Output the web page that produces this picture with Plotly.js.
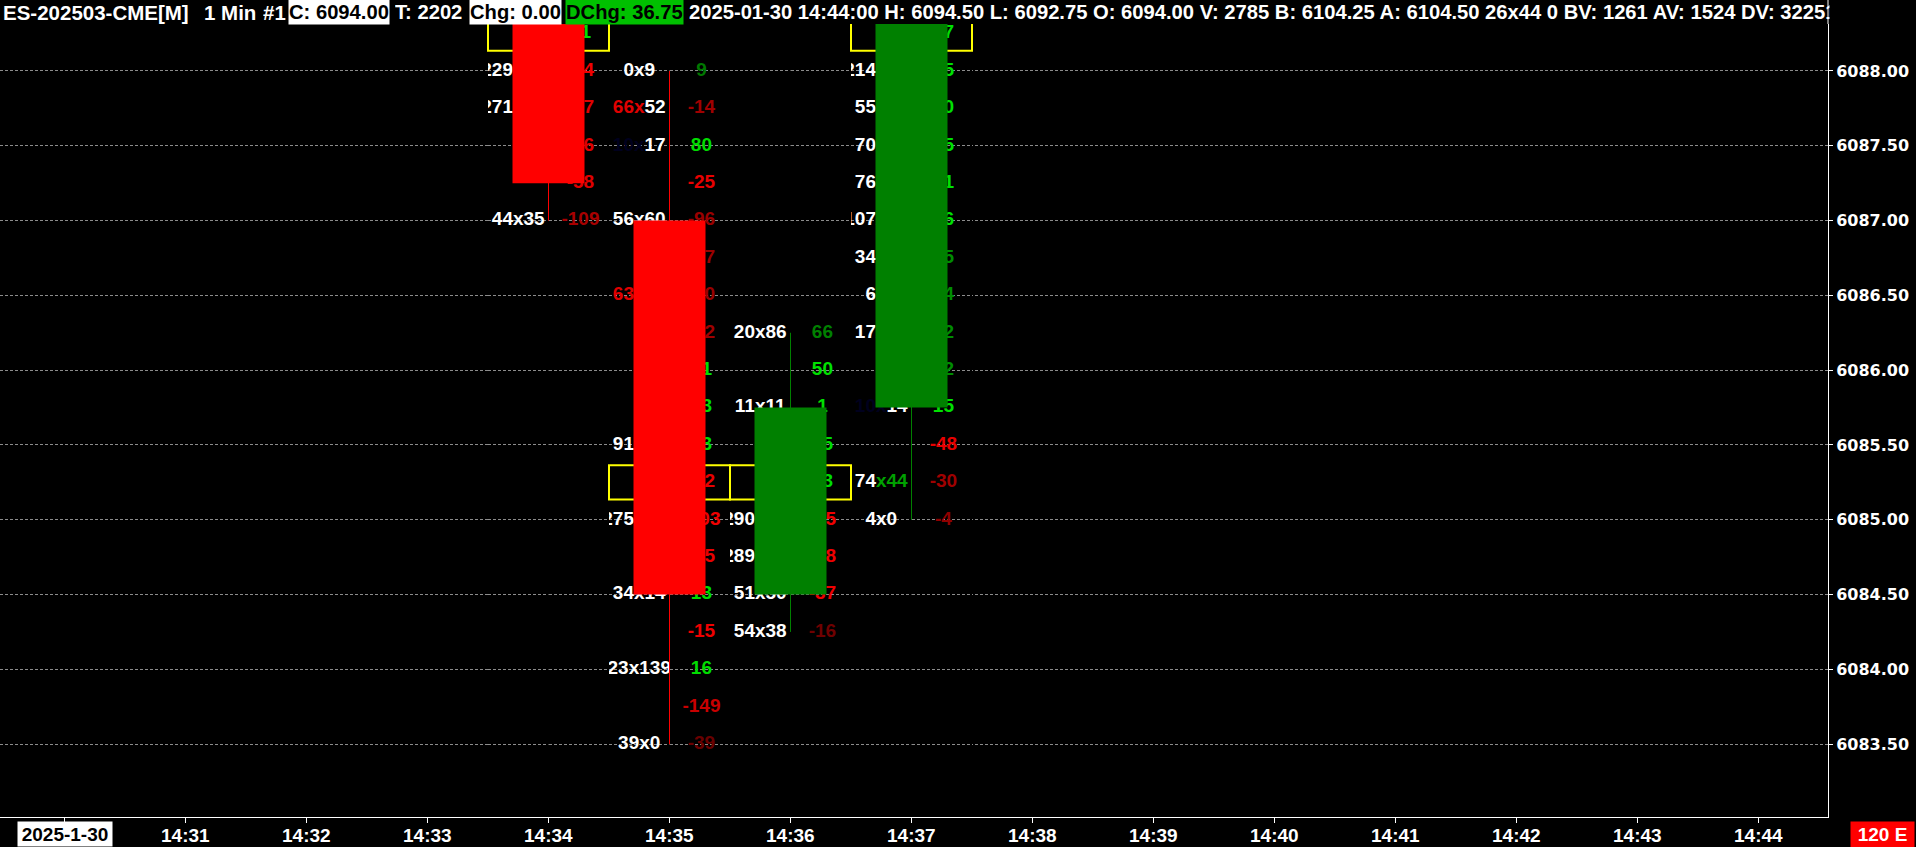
<!DOCTYPE html>
<html><head><meta charset="utf-8">
<script src="https://cdn.plot.ly/plotly-3.0.1.min.js"></script>
<style>html,body{margin:0;padding:0;background:#000;overflow:hidden}#chart{width:1916px;height:847px}</style>
</head><body><div id="chart"></div>
<script>
// ---------------- DATA ----------------
const candleTimes = ['14:34', '14:35', '14:36', '14:37'];
const candleOpen  = [6088.75, 6087.00, 6084.50, 6085.75];
const candleHigh  = [6089.00, 6088.00, 6086.25, 6089.25];
const candleLow   = [6087.00, 6083.50, 6084.25, 6085.00];
const candleClose = [6087.25, 6084.50, 6085.75, 6089.00];
const pocPrice    = [6088.25, 6085.25, 6085.25, 6088.25];

// footprint rows (one entry per price level)
const fpTime  = [
  '14:34','14:34','14:34','14:34','14:34','14:34',
  '14:35','14:35','14:35','14:35','14:35','14:35','14:35','14:35','14:35','14:35','14:35','14:35','14:35','14:35','14:35','14:35','14:35','14:35','14:35',
  '14:36','14:36','14:36','14:36','14:36','14:36','14:36','14:36','14:36',
  '14:37','14:37','14:37','14:37','14:37','14:37','14:37','14:37','14:37','14:37','14:37','14:37','14:37','14:37'
];
const fpPrice = [
  6088.25, 6088.00, 6087.75, 6087.50, 6087.25, 6087.00,
  6088.00, 6087.75, 6087.50, 6087.25, 6087.00, 6086.75, 6086.50, 6086.25, 6086.00, 6085.75, 6085.50, 6085.25, 6085.00, 6084.75, 6084.50, 6084.25, 6084.00, 6083.75, 6083.50,
  6086.25, 6086.00, 6085.75, 6085.50, 6085.25, 6085.00, 6084.75, 6084.50, 6084.25,
  6088.25, 6088.00, 6087.75, 6087.50, 6087.25, 6087.00, 6086.75, 6086.50, 6086.25, 6086.00, 6085.75, 6085.50, 6085.25, 6085.00
];
const fpBid = [
  null, 229, 271, null, null, 44,
  0, 66, 10, null, 56, null, 63, null, null, null, 91, null, 275, null, 34, null, 23, null, 39,
  20, null, 11, null, null, 290, 289, 51, 54,
  null, 214, 55, 70, 76, 107, 34, 6, 17, null, 10, null, 74, 4
];
const fpAsk = [
  null, 135, 188, null, null, 35,
  9, 52, 17, null, 60, null, 58, null, null, null, 77, null, 172, null, 14, null, 139, null, 0,
  86, null, 11, null, null, 145, 127, 50, 38,
  null, 105, 41, 35, 55, 196, 29, 9, 33, null, 14, null, 44, 0
];
const fpDelta = [
  21, -94, -27, -46, -58, -109,
  9, -14, 80, -25, -96, -47, -40, -32, 31, 23, 33, -42, -103, -85, 13, -15, 16, -149, -39,
  66, 50, 1, 25, 13, -45, -38, -37, -16,
  27, 35, 40, 45, 21, 16, 25, 24, 22, 12, 15, -48, -30, -4
];

// styles kept apart from the values
const fpBidColor = [
  null,'#fff','#fff',null,null,'#fff',
  '#fff','#e00000','#00001e',null,'#fff',null,'#e00000',null,null,null,'#fff',null,'#fff',null,'#fff',null,'#fff',null,'#fff',
  '#fff',null,'#fff',null,null,'#fff','#fff','#fff','#fff',
  null,'#fff','#fff','#fff','#fff','#fff','#fff','#fff','#fff',null,'#00001e',null,'#fff','#fff'
];
const fpAskColor = [
  null,'#fff','#fff',null,null,'#fff',
  '#fff','#fff','#fff',null,'#fff',null,'#fff',null,null,null,'#fff',null,'#fff',null,'#fff',null,'#fff',null,'#fff',
  '#fff',null,'#fff',null,null,'#fff','#fff','#fff','#fff',
  null,'#fff','#fff','#fff','#fff','#fff','#fff','#fff','#fff',null,'#fff',null,'#00a000','#fff'
];
const fpDeltaColor = [
  '#00e000','#f00000','#e00000','#e00000','#e00000','#a80000',
  '#007800','#a00000','#00dc00','#e80000','#9a0000','#9a0000','#9a0000','#a00000','#00e000','#00dc00','#00dc00','#e80000','#f00000','#e80000','#00dc00','#f00000','#00dc00','#c80000','#6a0000',
  '#008000','#00e000','#00e000','#00dc00','#00dc00','#f00000','#f00000','#f00000','#700000',
  '#00e000','#00e000','#00e000','#00e000','#00e000','#00e000','#008c00','#008c00','#008c00','#008c00','#00e000','#e80000','#a00000','#900000'
];

const axisTimes = ['14:30','14:31','14:32','14:33','14:34','14:35','14:36','14:37','14:38','14:39','14:40','14:41','14:42','14:43','14:44'];
const dateLabel = '2025-1-30';
const statusLabel = '120 E';

const headerSymbol = 'ES-202503-CME[M]';
const headerPeriod = '1 Min';
const headerChartNo = '#1';
const headerClose = 'C: 6094.00';
const headerTrades = 'T: 2202';
const headerChg = 'Chg: 0.00';
const headerDChg = 'DChg: 36.75';
const headerRest = '2025-01-30 14:44:00 H: 6094.50 L: 6092.75 O: 6094.00 V: 2785 B: 6104.25 A: 6104.50 26x44 0 BV: 1261 AV: 1524 DV: 32251';

// ---------------- GEOMETRY ----------------
const W = 1916, H = 847;
const M = {l: 0, r: 88, t: 24, b: 30};
const PW = W - M.l - M.r, PH = H - M.t - M.b;
const PX_PER_MIN = 121, ORIGIN_PX = 64.5;
const X0 = -ORIGIN_PX / PX_PER_MIN, X1 = (PW - ORIGIN_PX) / PX_PER_MIN;
const Y0 = 6083.013, Y1 = 6088.314;

const toMin = s => { const [h, m] = s.split(':').map(Number); return h * 60 + m - (14 * 60 + 30); };
const px2paperX = px => (px - M.l) / PW;
const py2paperY = py => (H - M.b - py) / PH;
const min2paper = m => (m - X0) / (X1 - X0);

const FONT = 'Liberation Sans, Arial, sans-serif';
const BODY_HALF = 0.2975, LEFT_OFF = 0.25, RIGHT_OFF = 0.264, BOX_HALF_Y = 0.114;

// ---------------- TRACES ----------------
const data = [];
const layout = {
  width: W, height: H, margin: {l: M.l, r: M.r, t: M.t, b: M.b, pad: 0},
  paper_bgcolor: '#000', plot_bgcolor: '#000', showlegend: false,
  font: {family: FONT, color: '#fff'},
  xaxis: {
    range: [X0, X1], tickvals: axisTimes.map(toMin), showticklabels: false,
    ticks: 'outside', ticklen: 5, tickwidth: 1, tickcolor: '#fff',
    showline: true, linecolor: '#fff', linewidth: 1, showgrid: false, zeroline: false, fixedrange: true
  },
  yaxis: {
    range: [Y0, Y1], side: 'right', tick0: 6083.5, dtick: 0.5, tickformat: '.2f',
    tickfont: {family: 'DejaVu Sans, Verdana, sans-serif', size: 16, color: '#fff', weight: 'bold'},
    ticks: 'outside', ticklen: 4, tickwidth: 1, tickcolor: '#fff',
    showline: true, linecolor: '#fff', linewidth: 1,
    showgrid: true, gridcolor: '#8c8c8c', gridwidth: 1, griddash: '3px,2px',
    zeroline: false, fixedrange: true
  },
  shapes: [], annotations: []
};

candleTimes.forEach((ct, i) => {
  const t = toMin(ct);
  const rows = fpTime.map((v, k) => v === ct ? k : -1).filter(k => k >= 0);
  // left cell (bid x ask) and right cell (delta), each clipped to its half column
  const cells = [[t - 0.5, t], [t, t + 0.5]];
  cells.forEach((c, j) => {
    const n = 2 + i * 2 + j;
    layout['xaxis' + n] = {domain: [min2paper(c[0]), min2paper(c[1])], range: c, visible: false, fixedrange: true, anchor: 'y'};
  });
  const left = rows.filter(k => fpBid[k] !== null);
  data.push({
    type: 'scatter', mode: 'text', xaxis: 'x' + (2 + i * 2), yaxis: 'y', hoverinfo: 'skip',
    x: left.map(() => t - LEFT_OFF), y: left.map(k => fpPrice[k]),
    text: left.map(k => {
      const bc = fpBidColor[k], ac = fpAskColor[k];
      const xc = bc !== '#fff' ? bc : ac;
      return `<span style="color:${bc}">${fpBid[k]}</span><span style="color:${xc}">x</span><span style="color:${ac}">${fpAsk[k]}</span>`;
    }),
    textposition: 'middle center',
    textfont: {family: FONT, size: 19, color: '#fff', weight: 'bold'}
  });
  data.push({
    type: 'scatter', mode: 'text', xaxis: 'x' + (3 + i * 2), yaxis: 'y', hoverinfo: 'skip',
    x: rows.map(() => t + RIGHT_OFF), y: rows.map(k => fpPrice[k]),
    text: rows.map(k => String(fpDelta[k])),
    textposition: 'middle center',
    textfont: {family: FONT, size: 19, color: rows.map(k => fpDeltaColor[k]), weight: 'bold'}
  });
  const up = candleClose[i] >= candleOpen[i];
  const col = up ? '#008000' : '#ff0000';
  // POC box
  layout.shapes.push({type: 'rect', xref: 'x', yref: 'y', layer: 'above',
    x0: t - 0.5, x1: t + 0.5, y0: pocPrice[i] - BOX_HALF_Y, y1: pocPrice[i] + BOX_HALF_Y,
    line: {color: '#ffff00', width: 2}, fillcolor: 'rgba(0,0,0,0)'});
  // wick
  layout.shapes.push({type: 'line', xref: 'x', yref: 'y', layer: 'above',
    x0: t, x1: t, y0: candleLow[i], y1: candleHigh[i], line: {color: col, width: 1}});
});
candleTimes.forEach((ct, i) => {
  const t = toMin(ct);
  const up = candleClose[i] >= candleOpen[i];
  layout.shapes.push({type: 'rect', xref: 'x', yref: 'y', layer: 'above',
    x0: t - BODY_HALF, x1: t + BODY_HALF, y0: candleOpen[i], y1: candleClose[i],
    line: {width: 0}, fillcolor: up ? '#008000' : '#ff0000'});
});
// right border continues through the header band
layout.shapes.push({type: 'line', xref: 'paper', yref: 'paper', layer: 'above',
  x0: 1, x1: 1, y0: 1, y1: py2paperY(0), line: {color: '#fff', width: 1}});

// header
const hy = py2paperY(12);
const header = [
  {text: headerSymbol, px: 2, bg: null, color: '#fff', size: 20.5},
  {text: headerPeriod, px: 203, bg: null, color: '#fff', size: 20.5},
  {text: headerChartNo, px: 262, bg: null, color: '#fff', size: 20.5},
  {text: headerClose, px: 288, bg: '#fff', color: '#000', size: 20.2},
  {text: headerTrades, px: 394, bg: null, color: '#fff', size: 20.2},
  {text: headerChg, px: 469, bg: '#fff', color: '#000', size: 20.2},
  {text: headerDChg, px: 565, bg: '#00c000', color: '#000', size: 20.2},
  {text: headerRest, px: 688, bg: null, color: '#fff', size: 20.2}
];
header.forEach(h => layout.annotations.push({
  xref: 'paper', yref: 'paper', x: px2paperX(h.px), y: hy, xanchor: 'left', yanchor: 'middle',
  text: h.text, showarrow: false, bgcolor: h.bg || 'rgba(0,0,0,0)', borderpad: 0, height: 24,
  font: {family: FONT, size: h.size, color: h.color, weight: 'bold'}
}));
// the header is cut at the price scale
layout.annotations.push({
  xref: 'paper', yref: 'paper', x: px2paperX(1829), y: hy, xanchor: 'left', yanchor: 'middle',
  text: ' ', showarrow: false, bgcolor: '#000', borderpad: 0, width: 87, height: 24
});

// time scale labels
const ly = py2paperY(835);
axisTimes.forEach((t, i) => {
  if (i === 0) return;
  layout.annotations.push({
    xref: 'x', yref: 'paper', x: toMin(t), y: ly, xanchor: 'center', yanchor: 'middle',
    text: t, showarrow: false, borderpad: 0,
    font: {family: FONT, size: 19, color: '#fff', weight: 'bold'}
  });
});
layout.annotations.push({
  xref: 'x', yref: 'paper', x: toMin(axisTimes[0]), y: py2paperY(834), xanchor: 'center', yanchor: 'middle',
  text: dateLabel, showarrow: false, bgcolor: '#fff', borderpad: 0, width: 94, height: 24,
  font: {family: FONT, size: 19, color: '#000', weight: 'bold'}
});
layout.annotations.push({
  xref: 'paper', yref: 'paper', x: px2paperX(1882.5), y: py2paperY(834.5), xanchor: 'center', yanchor: 'middle',
  text: statusLabel, showarrow: false, bgcolor: '#ff0000', borderpad: 0, width: 63, height: 25,
  font: {family: FONT, size: 19, color: '#fff', weight: 'bold'}
});

Plotly.newPlot('chart', data, layout, {displayModeBar: false, staticPlot: true});
</script>
</body></html>
